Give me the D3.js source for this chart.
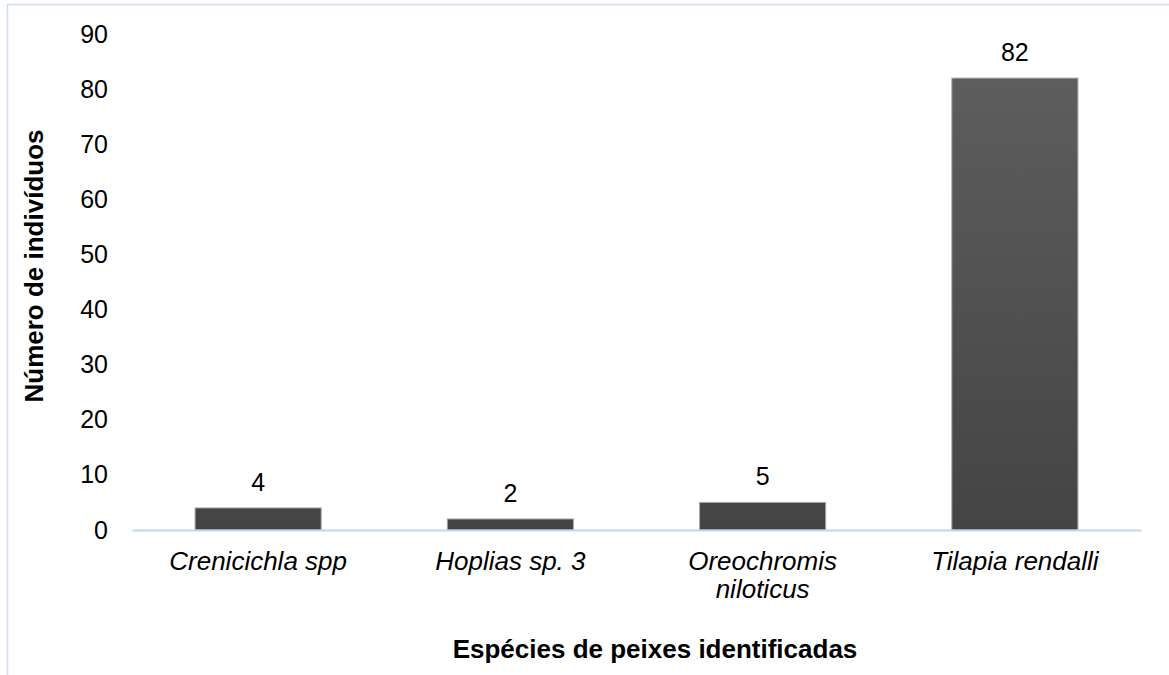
<!DOCTYPE html>
<html>
<head>
<meta charset="utf-8">
<script src="https://cdn.jsdelivr.net/npm/d3@7"></script>
<style>
  html, body { margin: 0; padding: 0; background: #fff; }
  svg { display: block; font-family: "Liberation Sans", Arial, sans-serif; }
</style>
</head>
<body>
<svg id="chart" width="1169" height="675"></svg>
<script>
// Species (each entry is the lines of its axis label) and individuals counted
const species = [
  ["Crenicichla spp"],
  ["Hoplias sp. 3"],
  ["Oreochromis", "niloticus"],
  ["Tilapia rendalli"]
];
const counts = [4, 2, 5, 82];
const yTicks = [0, 10, 20, 30, 40, 50, 60, 70, 80, 90];

const svg = d3.select("#chart");
const W = 1169, H = 675;
const plot = { left: 132, right: 1141, top: 34, bottom: 530 };
const numSize = 25, labelSize = 26;

// Chart area frame
svg.append("rect")
  .attr("x", 7.5).attr("y", 4.5)
  .attr("width", W + 10).attr("height", H + 10)
  .attr("fill", "none").attr("stroke", "#d0def0").attr("stroke-width", 1.5);

const keys = species.map(d => d.join(" "));
const x = d3.scaleBand().domain(keys).range([plot.left, plot.right]).paddingInner(0.5).paddingOuter(0.25);
const y = d3.scaleLinear().domain([0, 90]).range([plot.bottom, plot.top]);

// Bar fill: slightly lighter at the top
const defs = svg.append("defs");
const grad = defs.append("linearGradient")
  .attr("id", "barFill").attr("gradientUnits", "userSpaceOnUse")
  .attr("x1", 0).attr("x2", 0).attr("y1", y(90)).attr("y2", y(0));
grad.append("stop").attr("offset", 0).attr("stop-color", "#606060");
grad.append("stop").attr("offset", 1).attr("stop-color", "#444444");

// Y axis (labels only)
const yAxis = d3.axisLeft(y).tickValues(yTicks).tickSize(0).tickPadding(24);
const gy = svg.append("g").attr("transform", `translate(${plot.left},0)`).call(yAxis);
gy.select(".domain").remove();
gy.selectAll("text").attr("font-size", numSize).attr("fill", "#000").attr("font-family", "Liberation Sans, Arial, sans-serif");

// Bars
svg.append("g").selectAll("rect")
  .data(counts)
  .join("rect")
  .attr("x", (d, i) => x(keys[i]))
  .attr("y", d => y(d))
  .attr("width", x.bandwidth())
  .attr("height", d => y(0) - y(d))
  .attr("fill", "url(#barFill)")
  .attr("stroke", "#a8a8a8").attr("stroke-width", 1);

// Value labels
svg.append("g").selectAll("text")
  .data(counts)
  .join("text")
  .attr("x", (d, i) => x(keys[i]) + x.bandwidth() / 2)
  .attr("y", d => y(d) - 17)
  .attr("text-anchor", "middle")
  .attr("font-size", numSize)
  .attr("fill", "#000")
  .text(d => d);

// X axis baseline
const xAxis = d3.axisBottom(x).tickSize(0).tickFormat("");
const gx = svg.append("g").attr("transform", `translate(0,${plot.bottom})`).call(xAxis);
gx.select(".domain").attr("stroke", "#c6d7ec").attr("stroke-width", 2);

// Category labels (italic, possibly two lines)
const labels = svg.append("g").selectAll("text")
  .data(species)
  .join("text")
  .attr("x", (d, i) => x(keys[i]) + x.bandwidth() / 2)
  .attr("y", 570)
  .attr("text-anchor", "middle")
  .attr("font-size", labelSize)
  .attr("font-style", "italic")
  .attr("fill", "#000");
labels.each(function(d) {
  const t = d3.select(this);
  d.forEach((line, k) => {
    t.append("tspan").attr("x", t.attr("x")).attr("dy", k === 0 ? 0 : 28).text(line);
  });
});

// Axis titles
svg.append("text")
  .attr("x", 655)
  .attr("y", 658)
  .attr("text-anchor", "middle")
  .attr("font-size", labelSize)
  .attr("font-weight", "bold")
  .attr("fill", "#000")
  .text("Espécies de peixes identificadas");

svg.append("text")
  .attr("transform", "translate(43,266) rotate(-90)")
  .attr("text-anchor", "middle")
  .attr("font-size", labelSize)
  .attr("font-weight", "bold")
  .attr("fill", "#000")
  .text("Número de indivíduos");
</script>
</body>
</html>
